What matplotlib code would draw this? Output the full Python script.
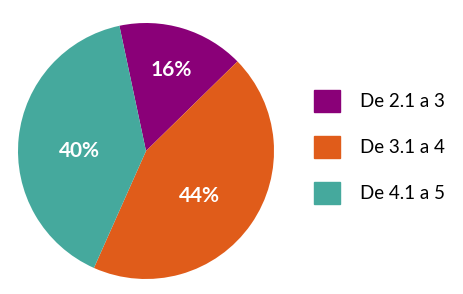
import matplotlib.pyplot as plt
from matplotlib.patches import Patch

# Pie shares (%) and legend labels
categories = ["De 2.1 a 3", "De 3.1 a 4", "De 4.1 a 5"]
shares = [16, 44, 40]
colors = ["#8a0078", "#e05c1a", "#45a99d"]

W, H = 463, 294
fig = plt.figure(figsize=(W / 100, H / 100), dpi=100)

# pie centre ~ (146, 151) px, radius ~128 px
cx, cy, r = 146, 151, 128
ax = fig.add_axes([(cx - r) / W, (H - cy - r) / H, 2 * r / W, 2 * r / H])

wedges, texts, autotexts = ax.pie(
    shares, colors=colors, startangle=102, counterclock=False,
    autopct='%d%%', pctdistance=0.58, radius=1,
    wedgeprops={'linewidth': 0},
    textprops={'color': 'white', 'fontsize': 15, 'fontweight': 'bold',
               'family': 'Lato'})

# percentage labels sit a bit off the slice mid-angles in the original
label_pos = [(0.20, 0.63), (0.42, -0.35), (-0.52, 0.0)]
for t, p in zip(autotexts, label_pos):
    t.set_position(p)

ax.set_xlim(-1, 1)
ax.set_ylim(-1, 1)
ax.set_aspect('equal')
ax.axis('off')

handles = [Patch(color=c) for c in colors]
fig.legend(handles, categories, loc='center left',
           bbox_to_anchor=(314 / W, 1 - 147 / H), frameon=False,
           borderaxespad=0, borderpad=0,
           handlelength=1.4, handleheight=1.4, labelspacing=1.3,
           handletextpad=1.05, prop={'family': 'Lato', 'size': 13.5})

fig.savefig("out.png", dpi=100)
